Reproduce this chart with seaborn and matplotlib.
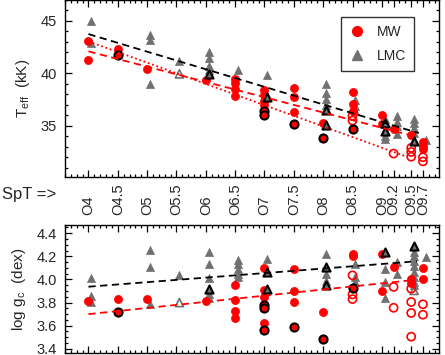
import numpy as np
import pandas as pd
import matplotlib
matplotlib.use('Agg')
import matplotlib.pyplot as plt
import seaborn as sns
from matplotlib.ticker import MultipleLocator
from matplotlib.lines import Line2D

sns.set_style('ticks')
plt.rcParams['font.family'] = ['Liberation Sans', 'DejaVu Sans']
plt.rcParams['mathtext.fontset'] = 'custom'
plt.rcParams['mathtext.rm'] = 'Liberation Sans'

RED = '#ff0000'
GRAY = '#707070'

# spectral types on the axis
spt_ticks = [4.0, 4.5, 5.0, 5.5, 6.0, 6.5, 7.0, 7.5, 8.0, 8.5, 9.0, 9.2, 9.5, 9.7]
spt_labels = ['O4', 'O4.5', 'O5', 'O5.5', 'O6', 'O6.5', 'O7', 'O7.5', 'O8', 'O8.5',
              'O9', 'O9.2', 'O9.5', 'O9.7']

# --- Teff (kK) ---
teff_mw_spt = [4.0, 4.0, 4.5, 5.0, 6.0, 6.5, 6.5, 6.5, 6.5, 7.0, 7.0, 7.0, 7.0, 7.5, 7.5, 7.5,
               8.0, 8.5, 8.5, 8.5, 9.0, 9.0, 9.2, 9.5, 9.7, 9.7, 9.7]
teff_mw = [43.1, 41.3, 42.35, 40.45, 39.4, 39.5, 39.1, 38.5, 37.8, 38.4, 37.9, 37.4, 37.0,
           38.6, 37.7, 36.35, 35.3, 38.2, 37.1, 36.4, 36.0, 35.2, 34.65, 34.1, 33.5, 33.1, 32.8]
teff_mw_edge_spt = [4.5, 7.0, 7.0, 7.5, 8.0, 8.5]
teff_mw_edge = [41.8, 36.4, 36.05, 35.15, 33.85, 34.7]
teff_mw_open_spt = [8.5, 8.5, 9.2, 9.5, 9.5, 9.5, 9.7, 9.7]
teff_mw_open = [35.95, 35.5, 32.35, 32.9, 32.5, 32.05, 32.0, 31.6]

teff_lmc_spt = [4.0, 4.0, 5.0, 5.0, 5.0, 5.5, 6.0, 6.0, 6.0, 6.0, 6.5, 7.0, 8.0, 8.0, 8.0, 8.0,
                8.5, 8.5, 8.5, 9.0, 9.0, 9.0, 9.2, 9.2, 9.2, 9.2, 9.5, 9.5, 9.5, 9.5, 9.7]
teff_lmc = [45.0, 42.9, 43.7, 43.2, 39.0, 41.15, 42.0, 41.5, 40.7, 40.3, 40.35, 39.8, 39.0,
            38.1, 37.6, 37.0, 37.5, 36.9, 36.4, 35.6, 34.0, 33.7, 35.9, 35.4, 34.95, 34.2,
            35.6, 35.3, 34.8, 34.3, 33.6]
teff_lmc_edge_spt = [6.0, 7.0, 8.0, 8.0, 9.0, 9.0, 9.5]
teff_lmc_edge = [39.9, 37.7, 36.5, 35.1, 35.25, 34.55, 33.55]
teff_lmc_open_spt = [5.5]
teff_lmc_open = [39.95]

# fits
teff_fit_lmc_spt = [4.0, 9.63]
teff_fit_lmc = [43.75, 34.3]
teff_fit_mw_spt = [4.0, 9.45]
teff_fit_mw = [42.1, 34.15]
teff_fit_mw2_spt = [4.0, 9.4]
teff_fit_mw2 = [43.05, 32.1]

# --- log g_c (dex) ---
logg_mw_spt = [4.0, 4.5, 5.0, 6.0, 6.5, 6.5, 6.5, 6.5, 7.0, 7.0, 7.0, 7.0, 7.5, 7.5, 7.5,
               8.0, 8.5, 8.5, 9.0, 9.0, 9.2, 9.5, 9.5, 9.7, 9.7]
logg_mw = [3.815, 3.83, 3.835, 3.81, 3.955, 3.82, 3.73, 3.67, 4.10, 3.905, 3.85, 3.62,
           4.09, 3.90, 3.805, 3.715, 4.22, 4.20, 4.22, 3.90, 4.105, 4.005, 3.97, 4.10, 4.005]
logg_mw_edge_spt = [4.5, 7.0, 7.0, 7.0, 7.5, 8.0, 8.5]
logg_mw_edge = [3.72, 3.775, 3.755, 3.56, 3.59, 3.485, 3.93]
logg_mw_open_spt = [8.5, 8.5, 8.5, 9.2, 9.2, 9.5, 9.5, 9.5, 9.5, 9.7, 9.7]
logg_mw_open = [4.035, 3.87, 3.83, 3.935, 3.755, 3.92, 3.805, 3.71, 3.505, 3.785, 3.695]

logg_lmc_spt = [4.0, 4.0, 4.0, 5.0, 5.0, 5.0, 5.5, 6.0, 6.0, 6.0, 6.0, 6.0, 6.5, 6.5, 6.5,
                6.5, 6.5, 7.0, 8.0, 8.0, 8.0, 8.5, 8.5, 8.5, 9.0, 9.0, 9.0, 9.2, 9.2,
                9.5, 9.5, 9.5, 9.5, 9.5, 9.5, 9.5, 9.5, 9.7]
logg_lmc = [4.015, 3.86, 3.805, 4.255, 4.11, 3.79, 4.04, 4.24, 4.13, 4.01, 3.875, 3.84,
            4.17, 4.13, 4.09, 4.045, 4.02, 4.18, 4.22, 4.05, 3.99, 4.135, 4.02, 3.975,
            4.09, 3.975, 3.84, 4.15, 4.05, 4.235, 4.205, 4.16, 4.12, 4.065, 4.02, 3.975,
            3.95, 4.19]
logg_lmc_edge_spt = [6.0, 7.0, 7.0, 8.0, 8.0, 9.0, 9.5]
logg_lmc_edge = [3.92, 4.065, 3.92, 4.11, 3.955, 4.235, 4.29]
logg_lmc_open_spt = [5.5, 9.5]
logg_lmc_open = [3.80, 3.905]

logg_fit_lmc_spt = [4.0, 9.6]
logg_fit_lmc = [3.937, 4.157]
logg_fit_mw_spt = [4.0, 9.45]
logg_fit_mw = [3.70, 3.99]

TRI_DX = 0.05  # triangles sit a bit to the right of the tick


def pts(ax, x, y, marker, face, edge, lw, dx=0.0, s=34):
    xx = np.asarray(x) + dx
    sns.scatterplot(x=xx, y=y, ax=ax, marker=marker, s=s,
                    color=edge if face == 'none' else face,
                    edgecolor=edge, linewidth=lw, zorder=3, legend=False)
    if face == 'none':
        ax.collections[-1].set_facecolor('none')


def fitline(ax, x, y, color, ls):
    df = pd.DataFrame({'x': x, 'y': y})
    sns.lineplot(data=df, x='x', y='y', ax=ax, color=color, lw=1.3,
                 linestyle=ls, zorder=4, legend=False)


def style_axis(ax, ymaj, ymin):
    ax.set_xlim(3.6, 9.97)
    ax.set_xticks(spt_ticks)
    ax.xaxis.set_minor_locator(MultipleLocator(0.1))
    ax.yaxis.set_major_locator(MultipleLocator(ymaj))
    ax.yaxis.set_minor_locator(MultipleLocator(ymin))
    ax.tick_params(which='both', direction='in', top=True, right=True,
                   color='black', width=0.9)
    ax.tick_params(which='major', length=5)
    ax.tick_params(which='minor', length=2.5)
    ax.tick_params(axis='y', labelsize=10.5, pad=6)
    for sp in ax.spines.values():
        sp.set_linewidth(1.0)
        sp.set_color('black')
    ax.set_xlabel('')


fig = plt.figure(figsize=(4.45, 3.55), dpi=100)
ax1 = fig.add_axes([0.146, 0.501, 0.840, 0.499])
ax2 = fig.add_axes([0.146, 0.006, 0.840, 0.360])

# top panel
pts(ax1, teff_lmc_spt, teff_lmc, '^', GRAY, GRAY, 0.5, TRI_DX)
pts(ax1, teff_lmc_open_spt, teff_lmc_open, '^', 'none', GRAY, 1.2, TRI_DX)
pts(ax1, teff_mw_spt, teff_mw, 'o', RED, RED, 0.5)
pts(ax1, teff_mw_open_spt, teff_mw_open, 'o', 'none', RED, 1.2)
pts(ax1, teff_mw_edge_spt, teff_mw_edge, 'o', RED, 'black', 1.5)
pts(ax1, teff_lmc_edge_spt, teff_lmc_edge, '^', GRAY, 'black', 1.5, TRI_DX)
fitline(ax1, teff_fit_lmc_spt, teff_fit_lmc, 'black', (0, (4, 2.5)))
fitline(ax1, teff_fit_mw_spt, teff_fit_mw, RED, (0, (4, 2.5)))
fitline(ax1, teff_fit_mw2_spt, teff_fit_mw2, RED, (0, (1, 1.5)))

style_axis(ax1, 5, 1)
ax1.set_ylim(30.1, 47.0)
ax1.tick_params(axis='x', labelbottom=False)
ax1.set_ylabel(r'T$_{\rm eff}$  (kK)', fontsize=11, labelpad=6)

handles = [Line2D([], [], marker='o', ls='', color=RED, markersize=7),
           Line2D([], [], marker='^', ls='', color=GRAY, markersize=7)]
leg = ax1.legend(handles, ['MW', 'LMC'], loc='upper right',
                 bbox_to_anchor=(0.953, 0.945), fontsize=10, frameon=True,
                 fancybox=False, edgecolor='black', handletextpad=0.8,
                 borderpad=0.6, labelspacing=0.7, handlelength=1.2)
leg.get_frame().set_linewidth(1.0)

# bottom panel
pts(ax2, logg_lmc_spt, logg_lmc, '^', GRAY, GRAY, 0.5, TRI_DX)
pts(ax2, logg_lmc_open_spt, logg_lmc_open, '^', 'none', GRAY, 1.2, TRI_DX)
pts(ax2, logg_mw_spt, logg_mw, 'o', RED, RED, 0.5)
pts(ax2, logg_mw_open_spt, logg_mw_open, 'o', 'none', RED, 1.2)
pts(ax2, logg_mw_edge_spt, logg_mw_edge, 'o', RED, 'black', 1.5)
pts(ax2, logg_lmc_edge_spt, logg_lmc_edge, '^', GRAY, 'black', 1.5, TRI_DX)
fitline(ax2, logg_fit_lmc_spt, logg_fit_lmc, 'black', (0, (4, 2.5)))
fitline(ax2, logg_fit_mw_spt, logg_fit_mw, RED, (0, (4, 2.5)))

style_axis(ax2, 0.2, 0.05)
ax2.set_ylim(3.365, 4.47)
ax2.yaxis.set_major_formatter(matplotlib.ticker.FormatStrFormatter('%.1f'))
ax2.tick_params(axis='x', labelbottom=False, labeltop=True, labelsize=10.5,
                labelrotation=90, pad=7)
ax2.set_ylabel(r'log g$_{\rm c}$  (dex)', fontsize=11, labelpad=6)
ax2.set_xticklabels(spt_labels)

fig.text(0.005, 0.451, 'SpT =>', fontsize=12, va='center', ha='left')

fig.savefig('out.png', dpi=100)
